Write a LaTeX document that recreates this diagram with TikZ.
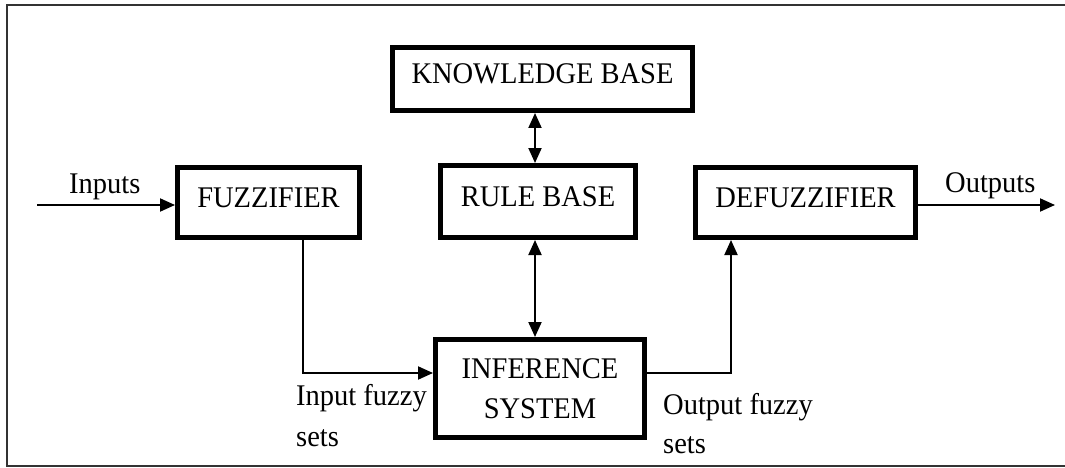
\documentclass[tikz,border=0pt]{standalone}
\usepackage{fontspec}
\setmainfont{Liberation Serif}[FakeStretch=0.95]
\usetikzlibrary{arrows.meta}
\begin{document}
\begin{tikzpicture}[x=1pt,y=-1pt,
  blk/.style={draw, line width=5pt, inner sep=0pt, font=\fontsize{30}{40}\selectfont},
  up/.style={text depth=10pt},
  lbl/.style={inner sep=0pt, anchor=base west, font=\fontsize{30}{34}\selectfont},
  arr/.style={line width=2pt, -{Triangle[length=15pt,width=13pt]}},
  darr/.style={line width=2pt, {Triangle[length=15pt,width=13pt]}-{Triangle[length=15pt,width=13pt]}},
  frame/.style={line width=2.5pt, black!80}]
\useasboundingbox (0,0) rectangle (1065,468);
\draw[frame] (1066,5) -- (7,5) -- (7,466) -- (1066,466);

\node[blk,up,minimum width=300pt,minimum height=63pt] (kb) at (542.5,79) {KNOWLEDGE BASE};
\node[blk,up,minimum width=182pt,minimum height=70pt] (fuzz) at (268.5,202.5) {FUZZIFIER};
\node[blk,up,minimum width=195pt,minimum height=72pt] (rb) at (538,201.5) {RULE BASE};
\node[blk,up,minimum width=220pt,minimum height=70pt] (defuzz) at (805.5,202.5) {DEFUZZIFIER};
\node[blk,align=center,minimum width=209pt,minimum height=98pt] (inf) at (540,388.5) {INFERENCE\\SYSTEM};

\coordinate (in) at (37,205);
\draw[arr] (in) -- (in -| fuzz.west);
\coordinate (out) at (1055,205);
\draw[arr] (out -| defuzz.east) -- (out);
\coordinate (v1) at (535,0);
\draw[darr] (kb.south -| v1) -- (rb.north -| v1);
\draw[darr] (rb.south -| v1) -- (inf.north -| v1);
\coordinate (c1) at (303,373);
\draw[arr] (fuzz.south -| c1) -- (c1) -- (c1 -| inf.west);
\coordinate (c2) at (731,373);
\draw[arr] (inf.east |- c2) -- (c2) -- (c2 |- defuzz.south);

\node[lbl] (lin) at (69,193) {Inputs};
\node[lbl] (lout) at (945,192) {Outputs};
\node[lbl] (lif1) at (296,405) {Input fuzzy};
\node[lbl] (lif2) at (296,446) {sets};
\node[lbl] (lof1) at (663,414) {Output fuzzy};
\node[lbl] (lof2) at (663,453) {sets};
\end{tikzpicture}
\end{document}
